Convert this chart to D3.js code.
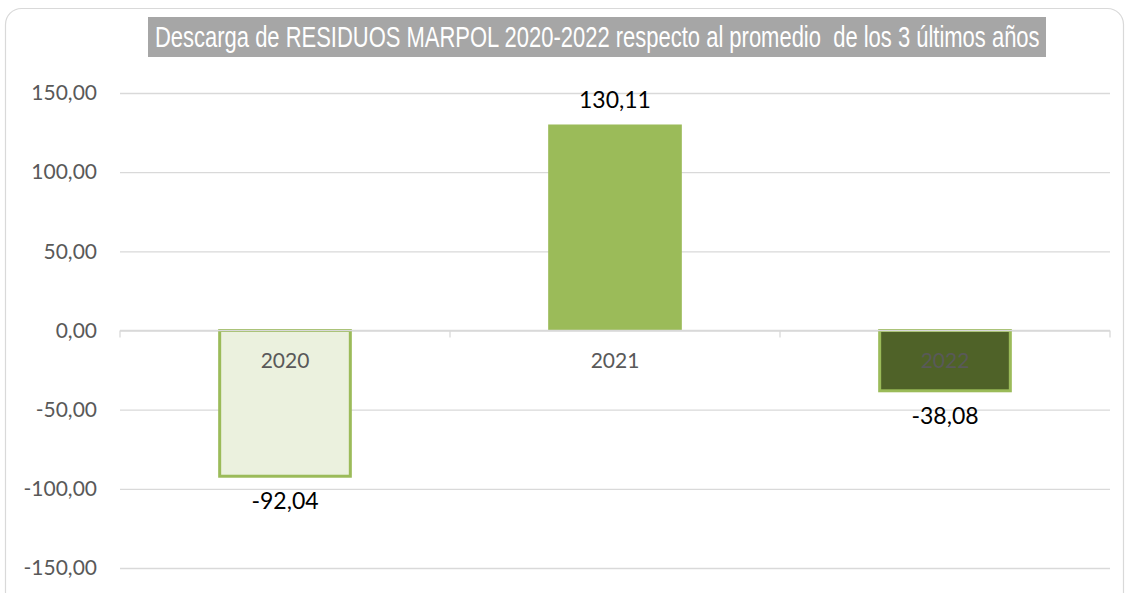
<!DOCTYPE html>
<html>
<head>
<meta charset="utf-8">
<script src="https://cdn.jsdelivr.net/npm/d3@7"></script>
<style>
  html, body { margin: 0; padding: 0; background: #fff; }
  svg { display: block; }
</style>
</head>
<body>
<svg id="chart" width="1129" height="593"></svg>
<script>
// Data
const years = ["2020", "2021", "2022"];
const values = [-92.04, 130.11, -38.08];
const tickValues = [-150, -100, -50, 0, 50, 100, 150];
const chartTitle = "Descarga de RESIDUOS MARPOL 2020-2022 respecto al promedio  de los 3 últimos años";

const fills = ["#EBF1DE", "#9BBB59", "#4F6228"];
const strokes = ["#9BBB59", "none", "#9BBB59"];

const W = 1129, H = 593;
const margin = { left: 120, right: 19, top: 93, bottom: 25 };

const svg = d3.select("#chart");
const fmt = v => d3.format(".2f")(v).replace(".", ",").replace("−", "-");
const labelFont = "Lato, 'Open Sans', sans-serif";

// outer frame
svg.append("rect")
  .attr("x", 5.5).attr("y", 8.5)
  .attr("width", 1118).attr("height", 600)
  .attr("rx", 16)
  .attr("fill", "none")
  .attr("stroke", "#D9D9D9")
  .attr("stroke-width", 1.2);

const x = d3.scaleBand()
  .domain(years)
  .range([margin.left, W - margin.right])
  .paddingInner(0.595)
  .paddingOuter(0.2975);

const y = d3.scaleLinear()
  .domain([-150, 150])
  .range([568, 93]);

// grid lines + y labels
const yAxis = d3.axisLeft(y)
  .tickValues(tickValues)
  .tickSize(-(W - margin.right - margin.left))
  .tickPadding(23)
  .tickFormat(fmt);

const gy = svg.append("g")
  .attr("transform", `translate(${margin.left},0)`)
  .call(yAxis);
gy.select(".domain").remove();
gy.selectAll(".tick line").attr("stroke", "#D9D9D9").attr("stroke-width", 1.3);
gy.selectAll(".tick text")
  .attr("fill", "#595959")
  .style("font-family", labelFont)
  .style("font-size", "21px");

// bars
svg.append("g").selectAll("rect")
  .data(years)
  .join("rect")
  .attr("x", (d, i) => x(d) + (strokes[i] === "none" ? 0 : 1.5))
  .attr("width", (d, i) => x.bandwidth() - (strokes[i] === "none" ? 0 : 3))
  .attr("y", (d, i) => Math.min(y(values[i]), y(0)))
  .attr("height", (d, i) => Math.abs(y(values[i]) - y(0)))
  .attr("fill", (d, i) => fills[i])
  .attr("stroke", (d, i) => strokes[i])
  .attr("stroke-width", 3);

// category axis along zero line
const xAxis = d3.axisBottom(x).tickSize(0).tickPadding(23);
const gx = svg.append("g")
  .attr("transform", `translate(0,${y(0)})`)
  .call(xAxis);
gx.select(".domain").attr("stroke", "#D9D9D9").attr("stroke-width", 1.3)
  .attr("d", `M${margin.left},0H${W - margin.right}`);
gx.selectAll(".tick text")
  .attr("fill", "#595959")
  .style("font-family", labelFont)
  .style("font-size", "21px");

// category separators
const bounds = d3.range(years.length + 1).map(i => margin.left + i * (W - margin.right - margin.left) / years.length);
gx.selectAll("line.sep")
  .data(bounds)
  .join("line")
  .attr("class", "sep")
  .attr("x1", d => d).attr("x2", d => d)
  .attr("y1", 0).attr("y2", 7)
  .attr("stroke", "#D9D9D9").attr("stroke-width", 1.3);

// value labels
svg.append("g").selectAll("text")
  .data(years)
  .join("text")
  .attr("x", d => x(d) + x.bandwidth() / 2)
  .attr("y", (d, i) => values[i] >= 0 ? y(values[i]) - 16 : y(values[i]) + 33)
  .attr("text-anchor", "middle")
  .attr("fill", "#000")
  .style("font-family", labelFont)
  .style("font-size", "23px")
  .text((d, i) => fmt(values[i]));

// title: condensed horizontally to fit its grey box
const tg = svg.append("g");
tg.append("rect")
  .attr("x", 148).attr("y", 17)
  .attr("width", 898).attr("height", 40)
  .attr("fill", "#A6A6A6");
const titleText = tg.append("text")
  .attr("x", 0).attr("y", 0)
  .attr("fill", "#fff")
  .style("white-space", "pre")
  .style("font-family", "'Liberation Sans', Arial, sans-serif")
  .style("font-size", "29px")
  .text(chartTitle);
const natural = titleText.node().getComputedTextLength();
const sx = 885 / natural;
titleText.attr("transform", `translate(155,47) scale(${sx},1)`);
</script>
</body>
</html>
